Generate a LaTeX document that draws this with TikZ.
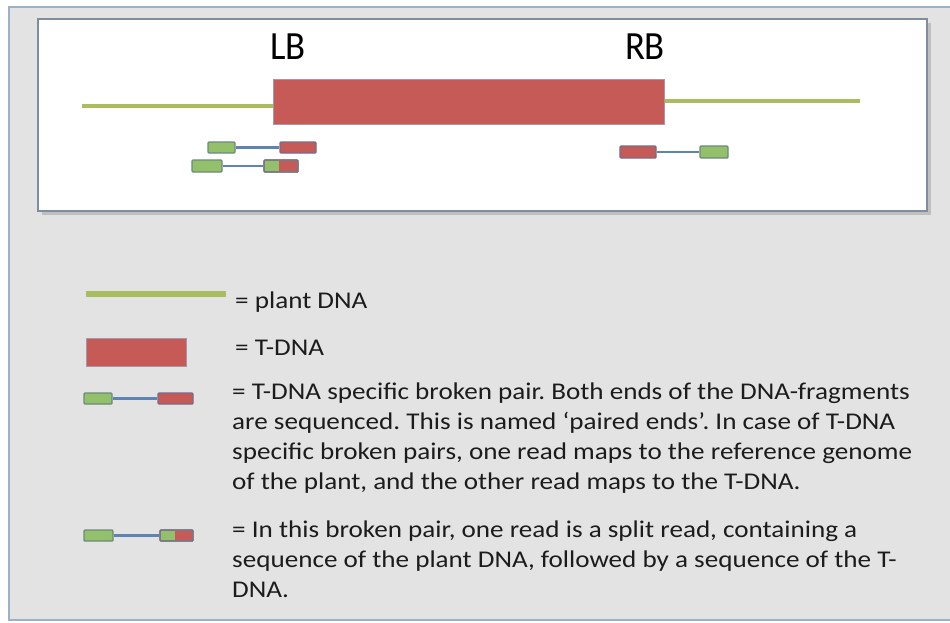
\documentclass[tikz,border=0pt]{standalone}
\usepackage{fontspec}
\setmainfont{Carlito}
\newfontfamily\bodyfont[FakeStretch=1.13]{Carlito}
\newfontfamily\tagfont[FakeStretch=0.92]{Carlito}
\frenchspacing
\definecolor{panel}{HTML}{E3E3E3}
\definecolor{frame}{HTML}{9EB0C8}
\definecolor{plant}{HTML}{A9BC5E}
\definecolor{tdna}{HTML}{C55A56}
\definecolor{tdnaedge}{HTML}{7A6A8A}
\definecolor{readgreen}{HTML}{93C06A}
\definecolor{readedge}{HTML}{6E8A78}
\definecolor{link}{HTML}{5C84B6}
\definecolor{ink}{HTML}{1C1C1C}
\tikzset{
  x=1pt, y=-1pt,
  plantline/.style={draw=plant, line width=4.5pt},
  tdnabox/.style={fill=tdna, draw=tdnaedge!70, line width=1pt},
  gread/.style={fill=readgreen, draw=readedge, line width=1.4pt, rounded corners=1pt},
  rread/.style={fill=tdna, draw=tdnaedge, line width=1.4pt, rounded corners=1pt},
  linker/.style={draw=link, line width=2.4pt},
  label/.style={font=\bodyfont\fontsize{24}{30}\selectfont, text=ink, anchor=north west, align=left, inner sep=0pt},
  border/.style={font=\tagfont\fontsize{40}{40}\selectfont, text=black, inner sep=0pt}
}
\begin{document}
\begin{tikzpicture}
% page and grey panel
\fill[white] (0,0) rectangle (950,622);
\useasboundingbox (0,0) rectangle (950,622);
\filldraw[fill=panel, draw=frame, line width=2pt] (9,7) rectangle (960,620);

% white insert with soft shadow
\fill[black!25] (42,23) rectangle (931,215);
\filldraw[fill=white, draw=frame!80!black, line width=1.5pt] (38,19) rectangle (927,211);

% plant DNA with T-DNA insert
\coordinate (pl1) at (82,106);
\coordinate (pl2) at (273,106);
\coordinate (pr1) at (664,101);
\coordinate (pr2) at (860,101);
\draw[plantline] (pl1) -- (pl2);
\draw[plantline] (pr1) -- (pr2);
\node[tdnabox, minimum width=391pt, minimum height=45pt, inner sep=0pt] (tdna) at (468.5,101.5) {};
\node[border] (lb) at (288,47) {LB};
\node[border] (rb) at (645,47) {RB};

% broken pairs at the left border
\node[gread, minimum width=27pt, minimum height=11pt, inner sep=0pt] (a1) at (221.5,147.5) {};
\node[rread, minimum width=36pt, minimum height=11pt, inner sep=0pt] (a2) at (298,147.5) {};
\draw[linker] (a1.east) -- (a2.west);

\node[gread, minimum width=30pt, minimum height=12pt, inner sep=0pt] (b1) at (207,166) {};
\node[gread, minimum width=34pt, minimum height=12pt, inner sep=0pt] (b2) at (281,166) {};
\fill[tdna] (279,161) rectangle (297.3,171);
\draw[draw=tdnaedge, line width=1.4pt, rounded corners=1pt] (264,160) rectangle (298,172);
\draw[linker] (b1.east) -- (b2.west);

% broken pair at the right border
\node[rread, minimum width=36pt, minimum height=12pt, inner sep=0pt] (c1) at (638,152) {};
\node[gread, minimum width=28pt, minimum height=12pt, inner sep=0pt] (c2) at (714,152) {};
\draw[linker] (c1.east) -- (c2.west);

% legend: plant DNA
\coordinate (k1a) at (86,294);
\coordinate (k1b) at (226,294);
\draw[draw=plant, line width=6pt] (k1a) -- (k1b);
\node[label] (t1) at (235,292) {= plant DNA};

% legend: T-DNA
\node[tdnabox, minimum width=100pt, minimum height=28pt, inner sep=0pt] (k2) at (136,352) {};
\node[label] (t2) at (235,340) {= T-DNA};

% legend: broken pair
\node[gread, minimum width=28pt, minimum height=11pt, inner sep=0pt] (k3a) at (98,398.5) {};
\node[rread, minimum width=35pt, minimum height=11pt, inner sep=0pt] (k3b) at (175.5,398.5) {};
\draw[linker] (k3a.east) -- (k3b.west);
\node[label] (t3) at (232,383) {= T-DNA specific broken pair. Both ends of the DNA-fragments\\
are sequenced. This is named ‘paired ends’. In case of T-DNA\\
specific broken pairs, one read maps to the reference genome\\
of the plant, and the other read maps to the T-DNA.};

% legend: split read
\node[gread, minimum width=29pt, minimum height=11pt, inner sep=0pt] (k4a) at (98.5,535.5) {};
\node[gread, minimum width=33pt, minimum height=11pt, inner sep=0pt] (k4b) at (176.5,535.5) {};
\fill[tdna] (175,531) rectangle (192.3,540);
\draw[draw=tdnaedge, line width=1.4pt, rounded corners=1pt] (160,530) rectangle (193,541);
\draw[linker] (k4a.east) -- (k4b.west);
\node[label] (t4) at (232,521) {= In this broken pair, one read is a split read, containing a\\
sequence of the plant DNA, followed by a sequence of the T-\\
DNA.};
\end{tikzpicture}
\end{document}
